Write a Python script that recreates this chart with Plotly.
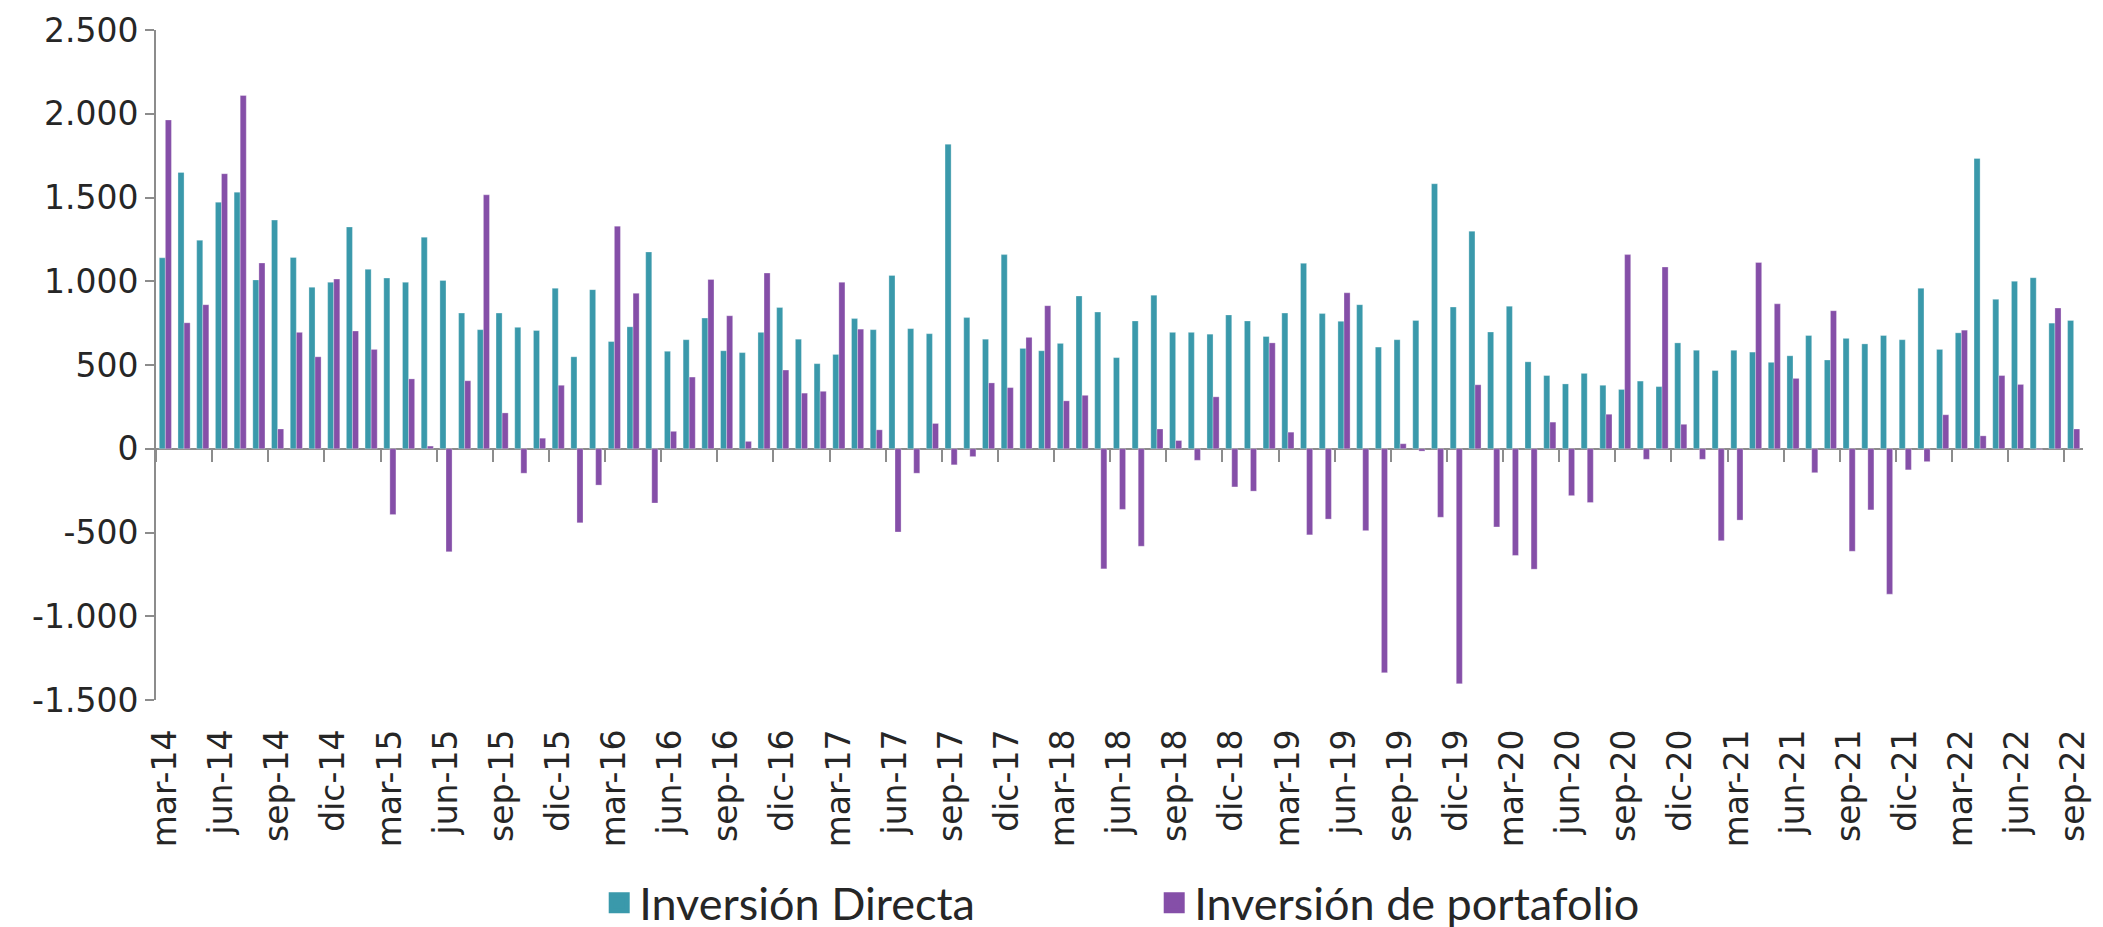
import numpy as np
import plotly.graph_objects as go

# ---- data ----
meses = ["ene", "feb", "mar", "abr", "may", "jun", "jul", "ago", "sep", "oct", "nov", "dic"]
periodos = []
for anio in range(14, 23):
    for i, m in enumerate(meses):
        if anio == 14 and i < 2:
            continue
        if anio == 22 and i > 8:
            continue
        periodos.append(f"{m}-{anio}")

inversion_directa = [
    1140, 1650, 1245, 1472, 1532, 1008, 1365, 1142, 964, 994,
    1324, 1071, 1019, 994, 1263, 1005, 810, 711, 810, 725,
    706, 958, 549, 950, 640, 728, 1175, 582, 651, 780,
    585, 574, 695, 843, 654, 508, 563, 777, 711, 1035,
    717, 687, 1818, 783, 654, 1159, 599, 585, 629, 912,
    816, 544, 763, 917, 695, 695, 684, 799, 763, 670,
    810, 1107, 807, 761, 860, 607, 651, 766, 1582, 846,
    1299, 697, 851, 519, 437, 387, 450, 379, 354, 404,
    371, 632, 588, 467, 588, 577, 516, 555, 676, 530,
    659, 626, 676, 651, 958, 593, 692, 1733, 892, 1000,
    1021, 750, 766,
]

inversion_portafolio = [
    1963, 752, 860, 1642, 2109, 1109, 118, 695, 549, 1013,
    703, 593, -393, 417, 16, -615, 406, 1516, 214, -146,
    63, 379, -442, -217, 1329, 928, -324, 104, 428, 1011,
    794, 44, 1049, 470, 332, 343, 994, 714, 113, -497,
    -146, 151, -96, -47, 393, 365, 665, 854, 286, 319,
    -717, -362, -582, 118, 49, -69, 310, -228, -253, 632,
    99, -514, -420, 931, -489, -1337, 30, -14, -409, -1403,
    382, -467, -637, -719, 159, -280, -321, 206, 1159, -63,
    1085, 146, -63, -549, -426, 1112, 865, 420, -143, 824,
    -612, -365, -868, -126, -77, 203, 708, 77, 437, 384,
    -5, 840, 118,
]

series_names = ["Inversión Directa", "Inversión de portafolio"]

y_tick_vals = [-1500, -1000, -500, 0, 500, 1000, 1500, 2000, 2500]
y_tick_text = ["-1.500", "-1.000", "-500", "0", "500", "1.000", "1.500", "2.000", "2.500"]

# ---- style ----
TEAL = "#3A99AB"
PURPLE = "#854FA8"
GREY = "#8C8C8C"
TXT = "#262626"

n = len(periodos)
boundary_ticks = list(np.arange(-0.5, n - 1, 3))

fig = go.Figure()
for name, vals, col in [(series_names[0], inversion_directa, TEAL),
                        (series_names[1], inversion_portafolio, PURPLE)]:
    fig.add_trace(go.Bar(
        x=periodos, y=vals, name=name, legendgroup=name, showlegend=False,
        marker=dict(color=col, line=dict(color="rgba(255,255,255,0.5)", width=0.6)),
    ))
    # legend entry with a larger square swatch
    fig.add_trace(go.Scatter(
        x=[None], y=[None], name=name, legendgroup=name, mode="markers",
        marker=dict(symbol="square", size=16, color=col,
                    line=dict(color=col, width=5)),
        hoverinfo="skip",
    ))

fig.update_layout(
    width=2103, height=927,
    margin=dict(l=148, r=28, t=22, b=235, autoexpand=False),
    paper_bgcolor="white", plot_bgcolor="white",
    barmode="group", bargap=0.35, bargroupgap=0,
    font=dict(family="DejaVu Sans", color=TXT),
    showlegend=True,
    legend=dict(
        orientation="h", x=0.230, xanchor="left",
        yref="container", y=32 / 927, yanchor="middle",
        font=dict(family="Lato", size=45, color=TXT),
        entrywidth=510, entrywidthmode="pixels",
        traceorder="normal", itemsizing="trace",
    ),
    xaxis=dict(
        type="category", range=[-0.5, n - 0.5], automargin=False,
        tickangle=-90, dtick=3, tick0=0,
        ticks="", showline=False, showgrid=False, zeroline=False,
        tickfont=dict(family="DejaVu Sans", size=33, color=TXT),
        ticklabelstandoff=22,
    ),
    xaxis2=dict(
        overlaying="x", anchor="free", position=1500 / 4000, automargin=False,
        range=[-0.5, n - 0.5], tickmode="array", tickvals=boundary_ticks,
        showticklabels=False, ticks="outside", ticklen=12, tickwidth=2,
        tickcolor=GREY, showline=False, showgrid=False, zeroline=False,
    ),
    yaxis=dict(
        range=[-1500, 2500], tickmode="array", automargin=False,
        tickvals=y_tick_vals, ticktext=y_tick_text,
        showgrid=False, zeroline=True, zerolinecolor=GREY, zerolinewidth=2,
        showline=True, linecolor=GREY, linewidth=2,
        ticks="outside", ticklen=9, tickwidth=2, tickcolor=GREY,
        tickfont=dict(family="DejaVu Sans", size=33, color=TXT),
    ),
)

# an empty scatter to activate xaxis2 (draws nothing)
fig.add_trace(go.Scatter(x=[None], y=[None], xaxis="x2", showlegend=False, hoverinfo="skip"))

fig.write_html("out.html")
